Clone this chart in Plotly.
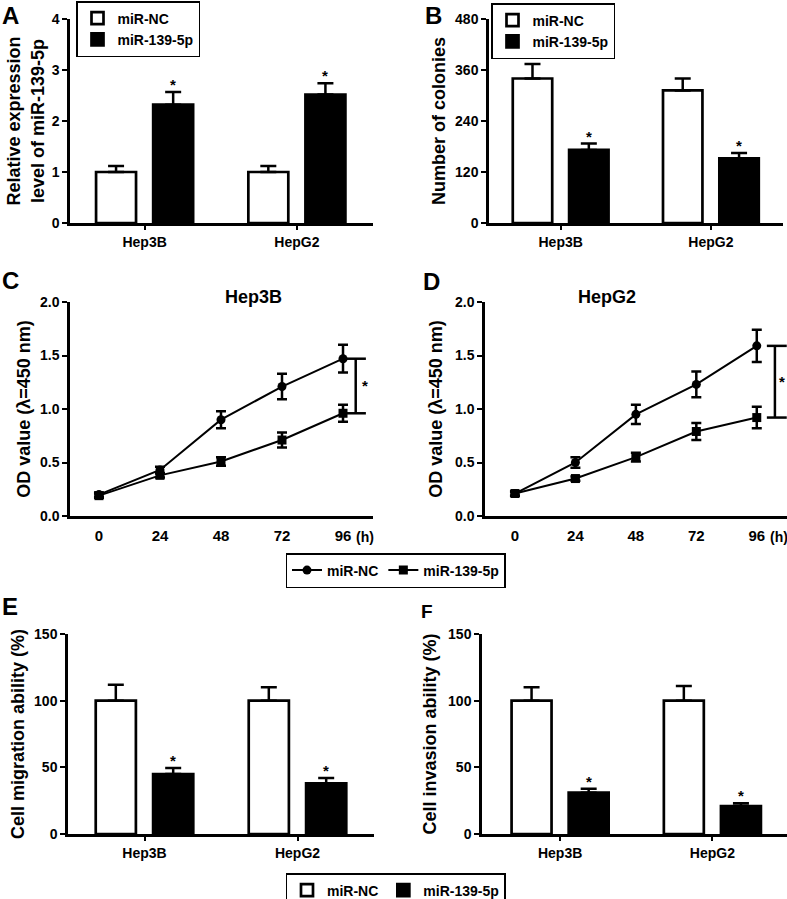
import plotly.graph_objects as go

# ---------------- data ----------------
cells = ["Hep3B", "HepG2"]
series_names = ["miR-NC", "miR-139-5p"]

expr_nc = [1.0, 1.0]
expr_nc_err = [0.12, 0.12]
expr_mir = [2.32, 2.52]
expr_mir_err = [0.25, 0.22]

col_nc = [340, 312]
col_nc_err = [34, 28]
col_mir = [172, 152]
col_mir_err = [15, 13]

time_h = [0, 24, 48, 72, 96]
time_labels = ["0", "24", "48", "72", "96"]
od_hep3b_nc = [0.20, 0.43, 0.90, 1.21, 1.47]
od_hep3b_nc_err = [0.02, 0.03, 0.08, 0.12, 0.13]
od_hep3b_mir = [0.19, 0.38, 0.51, 0.71, 0.96]
od_hep3b_mir_err = [0.02, 0.02, 0.04, 0.07, 0.08]
od_hepg2_nc = [0.21, 0.50, 0.95, 1.23, 1.59]
od_hepg2_nc_err = [0.02, 0.05, 0.09, 0.12, 0.15]
od_hepg2_mir = [0.21, 0.35, 0.55, 0.79, 0.92]
od_hepg2_mir_err = [0.02, 0.02, 0.04, 0.08, 0.10]

mig_nc = [100, 100]
mig_nc_err = [12, 10]
mig_mir = [45, 38]
mig_mir_err = [4.5, 4]

inv_nc = [100, 100]
inv_nc_err = [10, 11]
inv_mir = [31, 21]
inv_mir_err = [3, 2]

# ---------------- layout helpers ----------------
W, H = 787, 899
FONT = "Liberation Sans, Arial, sans-serif"


def px_x(p):
    return p / W


def px_y(p):
    return 1 - p / H


fig = go.Figure()


def bar_pair(ax, nc, nc_err, mir, mir_err, legend, show):
    xa, ya = "x" + ax, "y" + ax
    fig.add_trace(go.Bar(
        x=cells, y=nc, name=series_names[0], xaxis=xa, yaxis=ya,
        marker=dict(color="white", line=dict(color="black", width=2.7)),
        error_y=dict(type="data", array=nc_err, arrayminus=[0] * len(nc),
                     symmetric=False, color="black", thickness=2.5, width=8),
        legend=legend, showlegend=show, offsetgroup="nc"))
    fig.add_trace(go.Bar(
        x=cells, y=mir, name=series_names[1], xaxis=xa, yaxis=ya,
        marker=dict(color="black", line=dict(color="black", width=2.7)),
        error_y=dict(type="data", array=mir_err, arrayminus=[0] * len(mir),
                     symmetric=False, color="black", thickness=2.5, width=8),
        legend=legend, showlegend=show, offsetgroup="mir"))
    for c, v, e in zip(cells, mir, mir_err):
        fig.add_annotation(x=c, y=v + e, xref=xa, yref=ya, text="*",
                           showarrow=False, xshift=28.5, yanchor="bottom",
                           yshift=-3, font=dict(size=15, family=FONT))


def line_pair(ax, nc, nc_err, mir, mir_err, legend, show):
    xa, ya = "x" + ax, "y" + ax
    fig.add_trace(go.Scatter(
        x=time_h, y=nc, name=series_names[0], xaxis=xa, yaxis=ya,
        mode="lines+markers", line=dict(color="black", width=2),
        marker=dict(symbol="circle", size=9, color="black"),
        error_y=dict(type="data", array=nc_err, color="black",
                     thickness=2.5, width=5),
        legend=legend, showlegend=show))
    fig.add_trace(go.Scatter(
        x=time_h, y=mir, name=series_names[1], xaxis=xa, yaxis=ya,
        mode="lines+markers", line=dict(color="black", width=2),
        marker=dict(symbol="square", size=9, color="black"),
        error_y=dict(type="data", array=mir_err, color="black",
                     thickness=2.5, width=5),
        legend=legend, showlegend=show))


bar_pair("", expr_nc, expr_nc_err, expr_mir, expr_mir_err, "legend", True)
bar_pair("2", col_nc, col_nc_err, col_mir, col_mir_err, "legend2", True)
line_pair("3", od_hep3b_nc, od_hep3b_nc_err, od_hep3b_mir, od_hep3b_mir_err, "legend3", True)
line_pair("4", od_hepg2_nc, od_hepg2_nc_err, od_hepg2_mir, od_hepg2_mir_err, "legend3", False)
bar_pair("5", mig_nc, mig_nc_err, mig_mir, mig_mir_err, "legend4", True)
bar_pair("6", inv_nc, inv_nc_err, inv_mir, inv_mir_err, "legend4", False)

# ---------------- axes ----------------
axis_common = dict(showline=True, linecolor="black", linewidth=2.5,
                   showgrid=False, zeroline=False, ticks="outside",
                   tickcolor="black", tickwidth=2, ticklen=5, automargin=False,
                   tickfont=dict(size=14, family=FONT, color="black", weight="bold"))
title_font = dict(size=18, family=FONT, color="black", weight="bold")

dom_top = [px_y(223), px_y(19)]
dom_mid = [px_y(516), px_y(302)]
dom_bot = [px_y(834), px_y(634)]

layout_axes = dict(
    xaxis=dict(axis_common, domain=[px_x(70), px_x(373)], anchor="y",
               type="category", range=[-0.49, 1.5], ticklen=4),
    yaxis=dict(axis_common, domain=dom_top, anchor="x", range=[0, 4],
               tickvals=[0, 1, 2, 3, 4],
               title=dict(text="Relative expression<br>level of miR-139-5p",
                          font=title_font, standoff=3)),
    xaxis2=dict(axis_common, domain=[px_x(489), px_x(783)], anchor="y2",
                type="category", range=[-0.477, 1.48], ticklen=4),
    yaxis2=dict(axis_common, domain=dom_top, anchor="x2", range=[0, 480],
                tickvals=[0, 120, 240, 360, 480],
                title=dict(text="Number of colonies", font=title_font, standoff=5)),
    xaxis3=dict(axis_common, domain=[px_x(70), px_x(373)], anchor="y3",
                range=[-11.4, 107.8], tickvals=time_h, ticktext=time_labels,
                ticks="", ticklabelstandoff=4,
                tickfont=dict(size=15, family=FONT, color="black", weight="bold")),
    yaxis3=dict(axis_common, domain=dom_mid, anchor="x3", range=[0, 2],
                tickvals=[0, 0.5, 1.0, 1.5, 2.0], tickformat=".1f",
                title=dict(text="OD value (λ=450 nm)", font=title_font, standoff=5)),
    xaxis4=dict(axis_common, domain=[px_x(485), 1.0], anchor="y4",
                range=[-11.9, 108], tickvals=time_h, ticktext=time_labels,
                ticks="", ticklabelstandoff=4,
                tickfont=dict(size=15, family=FONT, color="black", weight="bold")),
    yaxis4=dict(axis_common, domain=dom_mid, anchor="x4", range=[0, 2],
                tickvals=[0, 0.5, 1.0, 1.5, 2.0], tickformat=".1f",
                title=dict(text="OD value (λ=450 nm)", font=title_font, standoff=8)),
    xaxis5=dict(axis_common, domain=[px_x(68), px_x(374)], anchor="y5",
                type="category", range=[-0.5, 1.5], ticklen=4),
    yaxis5=dict(axis_common, domain=dom_bot, anchor="x5", range=[0, 150],
                tickvals=[0, 50, 100, 150],
                title=dict(text="Cell migration ability (%)", font=title_font, standoff=5)),
    xaxis6=dict(axis_common, domain=[px_x(482), 1.0], anchor="y6",
                type="category", range=[-0.513, 1.49], ticklen=4),
    yaxis6=dict(axis_common, domain=dom_bot, anchor="x6", range=[0, 150],
                tickvals=[0, 50, 100, 150],
                title=dict(text="Cell invasion ability (%)", font=title_font, standoff=7)),
)

# ---------------- significance brackets (panels C, D) ----------------
def bracket(ax, nc, mir, cap_start, cap_end, vx, star_x):
    xa, ya = "x" + ax, "y" + ax
    t_last = time_h[-1]
    top, bottom = nc[-1], mir[-1]
    line = dict(color="black", width=2.5)
    fig.add_shape(type="line", xref=xa, yref=ya, x0=t_last + cap_start,
                  x1=t_last + cap_end, y0=top, y1=top, line=line)
    fig.add_shape(type="line", xref=xa, yref=ya, x0=t_last + cap_start,
                  x1=t_last + cap_end, y0=bottom, y1=bottom, line=line)
    fig.add_shape(type="line", xref=xa, yref=ya, x0=t_last + vx,
                  x1=t_last + vx, y0=top, y1=bottom, line=line)
    fig.add_annotation(x=t_last + star_x, y=(top + bottom) / 2, xref=xa, yref=ya,
                       text="*", showarrow=False, font=dict(size=15, family=FONT))


bracket("3", od_hep3b_nc, od_hep3b_mir, 0, 9, 5, 8.6)
bracket("4", od_hepg2_nc, od_hepg2_mir, 4, 11.9, 7.2, 10.0)

# "(h)" unit next to the last time tick
for ax in ["3", "4"]:
    fig.add_annotation(x=time_h[-1], y=0, xref="x" + ax, yref="y" + ax + " domain",
                       text="(h)", showarrow=False, xanchor="left", yanchor="top",
                       xshift=11, yshift=-11,
                       font=dict(size=14, family=FONT, weight="bold"))

# panel titles C, D
for px_c, t in [(223, "Hep3B"), (638, "HepG2")]:
    fig.add_annotation(x=px_x(px_c), y=px_y(285), xref="paper", yref="paper", text=t,
                       showarrow=False, font=dict(size=18, family=FONT, weight="bold"))

# panel letters
letters = [("A", 0, 0, 24), ("B", 423, 0, 24), ("C", 0, 270, 24),
           ("D", 421, 271, 24), ("E", 0, 596, 24), ("F", 419, 604, 19)]
for t, lx, ly, sz in letters:
    fig.add_annotation(x=px_x(lx), y=px_y(ly), xref="paper", yref="paper", text=t,
                       showarrow=False, xanchor="left", yanchor="top",
                       yshift=0 if ly == 0 else 5,
                       font=dict(size=sz, family=FONT, weight="bold"))

legend_common = dict(bordercolor="black", borderwidth=1.5, bgcolor="white",
                     font=dict(size=14, family=FONT, color="black", weight="bold"),
                     tracegroupgap=0)

fig.update_layout(
    width=W, height=H, margin=dict(l=0, r=0, t=0, b=0, autoexpand=False),
    paper_bgcolor="white", plot_bgcolor="white",
    font=dict(family=FONT, color="black", size=14, weight="bold"),
    barmode="group", bargap=0.25, bargroupgap=0.3,
    legend=dict(legend_common, x=px_x(76), y=px_y(1), xanchor="left", yanchor="top"),
    legend2=dict(legend_common, x=px_x(491), y=px_y(3), xanchor="left", yanchor="top"),
    legend3=dict(legend_common, x=px_x(395.5), y=px_y(553), xanchor="center",
                 yanchor="top", orientation="h"),
    legend4=dict(legend_common, x=px_x(395.5), y=px_y(873), xanchor="center",
                 yanchor="top", orientation="h"),
    **layout_axes,
)

fig.write_html("out.html", config={"displayModeBar": False},
               post_script="document.body.style.margin='0';document.body.style.overflow='hidden';")
